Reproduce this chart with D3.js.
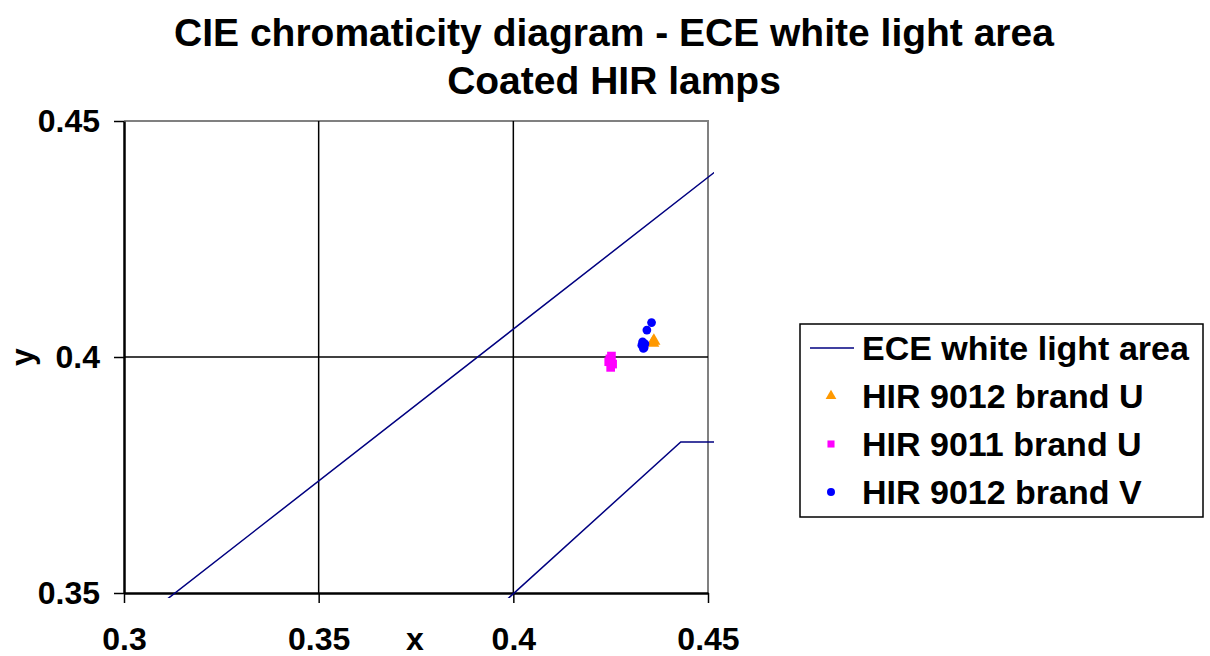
<!DOCTYPE html>
<html lang="en">
<head>
    <meta charset="UTF-8">
    <script src="https://d3js.org/d3.v7.min.js"></script>
    <title>CIE chromaticity diagram</title>
    <style>
        body { margin: 0; background: #fff; }
        text { font-family: "Liberation Sans", Arial, sans-serif; font-weight: bold; }
    </style>
</head>
<body>
    <div id="chart"></div>
    <script>
        // ECE white light area boundary (x, y corners)
        const eceX = [0.310, 0.453, 0.500, 0.500, 0.443, 0.310];
        const eceY = [0.348, 0.440, 0.440, 0.382, 0.382, 0.2825];

        // HIR 9012 brand U
        const u9012X = [0.4358, 0.4361];
        const u9012Y = [0.4030, 0.4034];
        // HIR 9011 brand U
        const u9011X = [0.4245, 0.4250, 0.4255, 0.4252, 0.4248];
        const u9011Y = [0.3990, 0.3978, 0.3985, 0.4002, 0.3996];
        // HIR 9012 brand V
        const v9012X = [0.4355, 0.4343, 0.4332, 0.4336, 0.4330, 0.4338, 0.4334];
        const v9012Y = [0.4073, 0.4057, 0.4032, 0.4020, 0.4025, 0.4028, 0.4018];

        const xTicks = [0.3, 0.35, 0.4, 0.45];
        const yTicks = [0.35, 0.4, 0.45];
        const titleLines = ["CIE chromaticity diagram - ECE white light area", "Coated HIR lamps"];
        const legendNames = ["ECE white light area", "HIR 9012 brand U", "HIR 9011 brand U", "HIR 9012 brand V"];

        const width = 1210, height = 656;
        const margin = { top: 121, right: 502, bottom: 63, left: 124 };

        const svg = d3.select("#chart").append("svg")
            .attr("width", width)
            .attr("height", height);

        const x = d3.scaleLinear().domain([0.3, 0.45]).range([margin.left, width - margin.right]);
        const y = d3.scaleLinear().domain([0.35, 0.45]).range([height - margin.bottom, margin.top]);

        // title
        svg.selectAll(".title")
            .data(titleLines)
            .enter()
            .append("text")
            .attr("x", 614)
            .attr("y", (d, i) => 46 + i * 48)
            .attr("text-anchor", "middle")
            .attr("font-size", "39px")
            .text(d => d);

        // plot frame (top/right grey)
        svg.append("path")
            .attr("d", `M${x(0.3)},${y(0.45)}H${x(0.45)}V${y(0.35)}`)
            .attr("fill", "none")
            .attr("stroke", "#808080")
            .attr("stroke-width", 2);

        // gridlines
        svg.append("g")
            .selectAll("line")
            .data(xTicks.slice(1, -1))
            .enter()
            .append("line")
            .attr("x1", d => x(d)).attr("x2", d => x(d))
            .attr("y1", y(0.45)).attr("y2", y(0.35))
            .attr("stroke", "#000").attr("stroke-width", 1.5);
        svg.append("g")
            .selectAll("line")
            .data(yTicks.slice(1, -1))
            .enter()
            .append("line")
            .attr("y1", d => y(d)).attr("y2", d => y(d))
            .attr("x1", x(0.3)).attr("x2", x(0.45))
            .attr("stroke", "#000").attr("stroke-width", 1.5);

        // axes
        const xAxis = svg.append("g")
            .attr("transform", `translate(0,${y(0.35)})`)
            .call(d3.axisBottom(x).tickValues(xTicks).tickFormat(d => String(d))
                .tickSize(10).tickSizeOuter(0).tickPadding(24));
        const yAxis = svg.append("g")
            .attr("transform", `translate(${x(0.3)},0)`)
            .call(d3.axisLeft(y).tickValues(yTicks).tickFormat(d => String(d))
                .tickSize(10).tickSizeOuter(0).tickPadding(14));
        [xAxis, yAxis].forEach(g => {
            g.attr("font-family", null).attr("font-size", null);
            g.select(".domain").attr("stroke-width", 2.5);
            g.selectAll(".tick line").attr("stroke-width", 1.5);
            g.selectAll("text").attr("font-size", "32px").attr("fill", "#000");
        });

        // axis titles
        svg.append("text")
            .attr("x", 415).attr("y", 650)
            .attr("text-anchor", "middle")
            .attr("font-size", "32px")
            .text("x");
        svg.append("text")
            .attr("transform", `translate(33,357) rotate(-90)`)
            .attr("text-anchor", "middle")
            .attr("font-size", "32px")
            .text("y");

        // clip a bit past the plot area
        svg.append("clipPath").attr("id", "clip")
            .append("rect")
            .attr("x", x(0.3)).attr("y", y(0.45) - 5)
            .attr("width", x(0.45) - x(0.3) + 6)
            .attr("height", y(0.35) - y(0.45) + 10);

        const ece = eceX.map((d, i) => [d, eceY[i]]);
        svg.append("path")
            .datum(ece)
            .attr("clip-path", "url(#clip)")
            .attr("d", d3.line().x(d => x(d[0])).y(d => y(d[1])))
            .attr("fill", "none")
            .attr("stroke", "#000080")
            .attr("stroke-width", 1.5);

        const series = [
            { name: legendNames[1], xs: u9012X, ys: u9012Y, color: "#FF9900", sym: d3.symbolTriangle, size: 75 },
            { name: legendNames[2], xs: u9011X, ys: u9011Y, color: "#FF00FF", sym: d3.symbolSquare, size: 75 },
            { name: legendNames[3], xs: v9012X, ys: v9012Y, color: "#0000FF", sym: d3.symbolCircle, size: 60 }
        ];

        series.forEach(s => {
            svg.append("g")
                .selectAll("path")
                .data(s.xs.map((d, i) => [d, s.ys[i]]))
                .enter()
                .append("path")
                .attr("transform", d => `translate(${x(d[0])},${y(d[1])})`)
                .attr("d", d3.symbol().type(s.sym).size(s.size))
                .attr("fill", s.color);
        });

        // legend
        const legend = svg.append("g").attr("transform", "translate(800,324)");
        legend.append("rect")
            .attr("width", 403).attr("height", 193)
            .attr("fill", "#fff").attr("stroke", "#000").attr("stroke-width", 1.5);
        const rowY = [24, 72, 120, 168];
        legend.append("line")
            .attr("x1", 10).attr("x2", 54)
            .attr("y1", rowY[0]).attr("y2", rowY[0])
            .attr("stroke", "#000080").attr("stroke-width", 1.5);
        series.forEach((s, i) => {
            legend.append("path")
                .attr("transform", `translate(31,${rowY[i + 1]})`)
                .attr("d", d3.symbol().type(s.sym).size(50))
                .attr("fill", s.color);
        });
        legend.selectAll(".lbl")
            .data(legendNames)
            .enter()
            .append("text")
            .attr("x", 62)
            .attr("y", (d, i) => rowY[i] + 12)
            .attr("font-size", "34px")
            .text(d => d);
    </script>
</body>
</html>
